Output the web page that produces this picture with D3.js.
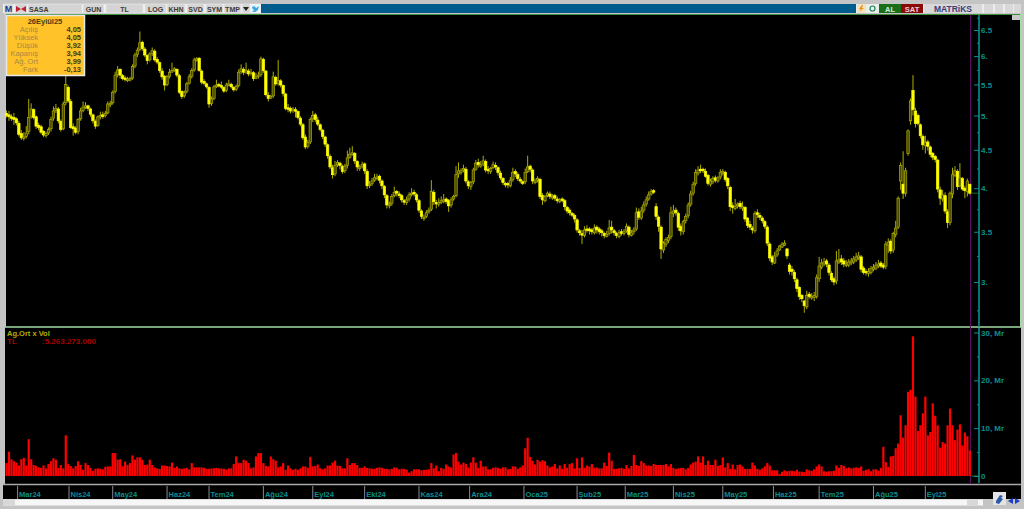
<!DOCTYPE html>
<html>
<head>
<meta charset="utf-8">
<title>SASA</title>
<script src="https://cdn.jsdelivr.net/npm/d3@7/dist/d3.min.js"></script>
<style>
html, body { margin: 0; padding: 0; background: #c4c4c4; overflow: hidden; }
svg { display: block; }
text { font-family: "Liberation Sans", sans-serif; }
</style>
</head>
<body>
<svg class="chart"></svg>
<script>
// data
var opens = [
  5.03,5.01,4.98,4.97,4.95,4.88,4.73,4.66,4.69,4.76,
  4.99,5.09,4.98,4.85,4.83,4.76,4.70,4.74,4.80,4.96,
  5.08,5.10,4.91,4.80,5.20,5.45,5.22,4.83,4.81,4.76,
  4.95,5.08,5.14,5.15,5.10,5.01,4.91,4.85,4.99,5.01,
  5.00,5.04,5.17,5.20,5.38,5.67,5.76,5.65,5.61,5.58,
  5.58,5.61,5.82,6.03,6.12,6.26,6.13,6.01,5.93,6.05,
  6.09,5.94,5.88,5.73,5.64,5.50,5.64,5.72,5.75,5.76,
  5.65,5.38,5.31,5.38,5.52,5.64,5.75,5.92,5.96,5.73,
  5.55,5.51,5.45,5.19,5.27,5.47,5.50,5.48,5.45,5.40,
  5.50,5.50,5.45,5.42,5.48,5.72,5.76,5.72,5.73,5.69,
  5.70,5.61,5.64,5.67,5.94,5.73,5.32,5.28,5.31,5.62,
  5.52,5.56,5.48,5.34,5.12,5.11,5.08,5.09,5.06,4.96,
  4.86,4.68,4.55,4.61,4.95,5.01,4.93,4.86,4.78,4.68,
  4.57,4.41,4.26,4.18,4.30,4.32,4.28,4.22,4.29,4.40,
  4.45,4.45,4.34,4.26,4.28,4.31,4.21,4.04,4.06,4.10,
  4.12,4.15,4.09,4.02,3.91,3.79,3.82,3.91,3.96,3.93,
  3.91,3.85,3.83,3.87,3.93,3.95,3.92,3.85,3.73,3.66,
  3.67,3.72,3.75,3.95,3.83,3.81,3.84,3.84,3.87,3.85,
  3.80,3.87,3.91,4.18,4.21,4.23,4.24,4.08,4.02,4.08,
  4.24,4.33,4.29,4.31,4.34,4.24,4.21,4.26,4.29,4.26,
  4.19,4.12,4.06,4.06,4.03,4.11,4.21,4.17,4.11,4.08,
  4.08,4.21,4.28,4.23,4.08,4.10,4.11,3.91,3.85,3.91,
  3.93,3.89,3.91,3.87,3.84,3.87,3.85,3.77,3.74,3.70,
  3.68,3.63,3.51,3.48,3.46,3.53,3.53,3.52,3.49,3.55,
  3.53,3.51,3.48,3.45,3.48,3.55,3.51,3.48,3.45,3.50,
  3.48,3.51,3.55,3.46,3.50,3.53,3.72,3.65,3.74,3.81,
  3.87,3.93,3.97,3.78,3.66,3.55,3.31,3.37,3.41,3.45,
  3.70,3.74,3.70,3.56,3.50,3.62,3.68,3.81,3.94,4.06,
  4.19,4.24,4.24,4.21,4.16,4.05,4.08,4.13,4.09,4.14,
  4.19,4.20,4.12,4.01,3.79,3.76,3.79,3.82,3.77,3.77,
  3.65,3.58,3.54,3.51,3.71,3.68,3.65,3.61,3.55,3.37,
  3.24,3.18,3.26,3.31,3.34,3.36,3.32,3.16,3.12,3.09,
  3.02,2.95,2.88,2.83,2.78,2.89,2.86,2.86,2.87,3.03,
  3.14,3.17,3.20,3.16,3.08,3.03,3.01,3.19,3.22,3.20,
  3.16,3.16,3.18,3.19,3.21,3.23,3.24,3.13,3.10,3.08,
  3.09,3.12,3.13,3.15,3.18,3.16,3.15,3.36,3.40,3.31,
  3.47,3.55,4.09,4.05,3.94,4.45,4.92,5.40,5.07,5.00,
  4.86,4.69,4.56,4.61,4.54,4.45,4.41,4.36,3.98,3.87,
  3.91,3.72,3.60,3.93,4.16,4.21,4.03,4.12,4.00,3.96,4.05
];
var closes = [
  5.00,4.98,4.96,4.94,4.89,4.72,4.67,4.68,4.74,4.97,
  5.10,4.97,4.84,4.82,4.75,4.71,4.73,4.79,4.94,5.07,
  5.11,4.92,4.79,5.18,5.50,5.23,4.82,4.80,4.75,4.94,
  5.07,5.13,5.15,5.11,5.02,4.92,4.84,4.98,5.00,5.00,
  5.03,5.18,5.19,5.37,5.66,5.75,5.66,5.60,5.59,5.59,
  5.60,5.81,6.02,6.11,6.25,6.14,6.02,5.92,6.04,6.10,
  5.93,5.89,5.74,5.63,5.49,5.63,5.71,5.74,5.77,5.66,
  5.37,5.30,5.37,5.51,5.63,5.74,5.93,5.95,5.74,5.54,
  5.52,5.46,5.18,5.26,5.46,5.49,5.49,5.46,5.39,5.49,
  5.51,5.46,5.41,5.47,5.71,5.77,5.71,5.74,5.68,5.71,
  5.60,5.63,5.66,5.95,5.74,5.33,5.27,5.30,5.63,5.51,
  5.57,5.49,5.35,5.11,5.10,5.07,5.10,5.07,4.97,4.87,
  4.67,4.54,4.60,4.94,5.00,4.94,4.87,4.79,4.69,4.58,
  4.42,4.27,4.17,4.29,4.33,4.29,4.21,4.28,4.39,4.44,
  4.46,4.35,4.27,4.27,4.30,4.22,4.03,4.05,4.09,4.13,
  4.14,4.10,4.03,3.92,3.80,3.81,3.90,3.95,3.94,3.92,
  3.86,3.84,3.86,3.92,3.94,3.93,3.86,3.74,3.67,3.66,
  3.71,3.74,3.96,3.84,3.82,3.83,3.85,3.86,3.84,3.79,
  3.86,3.90,4.17,4.22,4.22,4.25,4.09,4.03,4.07,4.23,
  4.32,4.30,4.30,4.35,4.23,4.22,4.25,4.30,4.27,4.20,
  4.13,4.07,4.05,4.04,4.10,4.20,4.18,4.12,4.09,4.07,
  4.20,4.27,4.24,4.09,4.09,4.12,3.90,3.86,3.90,3.94,
  3.90,3.90,3.88,3.85,3.86,3.86,3.78,3.73,3.71,3.69,
  3.64,3.52,3.49,3.47,3.52,3.52,3.51,3.50,3.54,3.52,
  3.50,3.49,3.46,3.47,3.54,3.52,3.49,3.46,3.49,3.49,
  3.50,3.56,3.47,3.49,3.52,3.71,3.66,3.73,3.80,3.86,
  3.92,3.96,3.96,3.67,3.56,3.32,3.38,3.42,3.44,3.71,
  3.73,3.71,3.55,3.51,3.61,3.67,3.80,3.93,4.05,4.20,
  4.23,4.23,4.22,4.15,4.06,4.09,4.12,4.10,4.13,4.20,
  4.21,4.11,4.03,3.78,3.77,3.78,3.81,3.78,3.78,3.64,
  3.57,3.55,3.52,3.70,3.69,3.66,3.62,3.56,3.38,3.23,
  3.19,3.25,3.30,3.35,3.37,3.38,3.25,3.10,3.10,3.03,
  2.94,2.87,2.85,2.79,2.88,2.87,2.87,2.88,3.04,3.15,
  3.18,3.19,3.17,3.09,3.02,3.00,3.20,3.21,3.19,3.17,
  3.17,3.19,3.20,3.22,3.24,3.25,3.12,3.09,3.09,3.10,
  3.13,3.14,3.16,3.17,3.15,3.14,3.37,3.39,3.30,3.48,
  3.54,3.88,4.29,3.94,4.22,4.77,5.23,5.09,4.88,4.88,
  4.70,4.57,4.60,4.55,4.44,4.40,4.37,3.99,3.88,3.92,
  3.73,3.60,3.94,4.17,4.22,4.02,4.13,3.99,3.97,4.09,3.94
];
var highs = [
  5.08,5.07,5.02,5.04,4.97,4.92,4.78,4.75,4.84,5.26,
  5.19,5.11,5.00,4.89,4.86,4.78,4.76,4.82,4.98,5.14,
  5.18,5.13,4.94,5.22,5.70,5.48,5.26,4.88,4.84,4.96,
  5.12,5.22,5.21,5.17,5.12,5.03,4.94,5.00,5.06,5.06,
  5.07,5.22,5.23,5.40,5.72,5.82,5.78,5.68,5.65,5.63,
  5.63,5.85,6.06,6.16,6.47,6.29,6.17,6.03,6.07,6.16,
  6.13,5.98,5.90,5.78,5.66,5.66,5.77,5.88,5.80,5.78,
  5.68,5.40,5.40,5.54,5.68,5.78,5.97,5.98,5.98,5.76,
  5.59,5.53,5.47,5.30,5.49,5.58,5.53,5.55,5.47,5.53,
  5.58,5.53,5.47,5.50,5.76,5.85,5.80,5.88,5.77,5.77,
  5.73,5.70,5.72,5.99,5.97,5.75,5.37,5.33,5.72,5.65,
  5.93,5.59,5.50,5.36,5.18,5.14,5.13,5.13,5.08,4.99,
  4.89,4.72,4.64,4.97,5.07,5.04,4.98,4.88,4.80,4.70,
  4.59,4.44,4.30,4.35,4.36,4.34,4.30,4.31,4.49,4.53,
  4.55,4.47,4.36,4.30,4.34,4.33,4.24,4.09,4.13,4.18,
  4.18,4.17,4.11,4.04,3.93,3.84,3.93,4.02,3.98,3.96,
  3.93,3.87,3.90,3.95,4.00,3.98,3.94,3.87,3.75,3.69,
  3.74,3.77,4.10,3.98,3.86,3.88,3.90,3.93,3.89,3.87,
  3.89,3.92,4.28,4.33,4.25,4.30,4.27,4.10,4.09,4.26,
  4.36,4.38,4.35,4.42,4.37,4.28,4.27,4.34,4.33,4.28,
  4.22,4.14,4.08,4.08,4.14,4.26,4.24,4.20,4.14,4.10,
  4.25,4.42,4.30,4.25,4.12,4.15,4.13,3.94,3.92,3.96,
  3.96,3.93,3.93,3.90,3.88,3.89,3.87,3.79,3.76,3.72,
  3.70,3.65,3.53,3.52,3.56,3.57,3.55,3.54,3.58,3.57,
  3.55,3.53,3.50,3.51,3.63,3.62,3.53,3.50,3.52,3.53,
  3.53,3.59,3.57,3.52,3.55,3.77,3.76,3.78,3.84,3.90,
  3.96,3.99,3.99,3.82,3.68,3.57,3.40,3.44,3.47,3.78,
  3.80,3.77,3.72,3.59,3.63,3.70,3.83,3.97,4.08,4.24,
  4.28,4.30,4.26,4.25,4.18,4.12,4.15,4.16,4.15,4.24,
  4.24,4.22,4.14,4.03,3.83,3.87,3.83,3.85,3.84,3.79,
  3.66,3.62,3.56,3.73,3.75,3.71,3.67,3.63,3.57,3.39,
  3.26,3.29,3.33,3.36,3.39,3.41,3.33,3.18,3.15,3.11,
  3.04,2.96,2.89,2.84,2.92,2.91,2.90,2.91,3.07,3.24,
  3.22,3.23,3.22,3.18,3.10,3.05,3.30,3.32,3.26,3.23,
  3.21,3.22,3.23,3.25,3.28,3.29,3.26,3.15,3.12,3.13,
  3.15,3.17,3.19,3.21,3.20,3.18,3.40,3.43,3.42,3.50,
  3.62,3.90,4.33,4.48,4.26,4.79,5.27,5.66,5.12,5.03,
  4.88,4.72,4.70,4.64,4.56,4.47,4.43,4.38,4.02,3.98,
  3.95,3.75,3.96,4.26,4.28,4.24,4.32,4.14,4.03,4.12,4.05
];
var lows = [
  4.97,4.92,4.92,4.86,4.85,4.69,4.64,4.63,4.66,4.72,
  4.95,4.94,4.80,4.78,4.72,4.68,4.67,4.71,4.76,4.92,
  5.04,4.88,4.76,4.78,5.16,5.20,4.80,4.70,4.72,4.72,
  4.92,5.05,5.10,5.07,4.98,4.88,4.80,4.83,4.94,4.95,
  4.97,5.02,5.13,5.17,5.35,5.62,5.60,5.57,5.55,5.54,
  5.55,5.58,5.78,5.98,6.09,6.10,5.98,5.85,5.90,6.00,
  5.90,5.85,5.70,5.58,5.40,5.47,5.60,5.70,5.72,5.62,
  5.34,5.26,5.28,5.35,5.50,5.60,5.72,5.90,5.72,5.50,
  5.48,5.43,5.12,5.15,5.24,5.44,5.45,5.42,5.36,5.37,
  5.47,5.43,5.38,5.39,5.45,5.68,5.66,5.68,5.64,5.65,
  5.56,5.59,5.60,5.63,5.70,5.30,5.22,5.26,5.28,5.48,
  5.48,5.45,5.30,5.08,5.05,5.03,5.04,4.97,4.94,4.84,
  4.64,4.51,4.52,4.58,4.90,4.90,4.84,4.76,4.65,4.54,
  4.38,4.24,4.12,4.15,4.27,4.24,4.18,4.19,4.25,4.38,
  4.42,4.31,4.22,4.22,4.25,4.18,3.99,4.00,4.03,4.08,
  4.10,4.06,3.99,3.88,3.76,3.76,3.79,3.89,3.90,3.88,
  3.83,3.80,3.80,3.84,3.90,3.90,3.83,3.71,3.64,3.62,
  3.65,3.70,3.73,3.80,3.76,3.78,3.81,3.82,3.81,3.72,
  3.77,3.85,3.89,4.13,4.17,4.20,4.06,3.99,3.98,4.05,
  4.22,4.26,4.26,4.28,4.20,4.18,4.18,4.24,4.23,4.16,
  4.10,4.04,4.01,4.00,4.01,4.08,4.14,4.09,4.06,4.04,
  4.05,4.19,4.20,4.05,4.05,4.07,3.87,3.80,3.83,3.89,
  3.87,3.86,3.85,3.82,3.82,3.83,3.74,3.70,3.68,3.66,
  3.60,3.49,3.46,3.37,3.44,3.49,3.47,3.47,3.47,3.48,
  3.47,3.45,3.43,3.44,3.46,3.48,3.46,3.43,3.43,3.46,
  3.46,3.49,3.44,3.45,3.47,3.51,3.63,3.63,3.71,3.78,
  3.85,3.91,3.93,3.63,3.50,3.22,3.28,3.34,3.38,3.42,
  3.66,3.68,3.51,3.46,3.47,3.59,3.65,3.78,3.91,4.03,
  4.16,4.19,4.19,4.13,4.03,4.02,4.05,4.07,4.07,4.11,
  4.16,4.08,3.99,3.73,3.70,3.74,3.76,3.75,3.73,3.61,
  3.54,3.52,3.48,3.49,3.65,3.63,3.59,3.53,3.35,3.20,
  3.16,3.17,3.24,3.30,3.33,3.35,3.22,3.07,3.06,3.00,
  2.91,2.84,2.82,2.73,2.76,2.85,2.84,2.83,2.85,3.00,
  3.12,3.15,3.14,3.06,3.00,2.97,2.98,3.17,3.16,3.14,
  3.14,3.14,3.16,3.17,3.19,3.21,3.09,3.07,3.06,3.05,
  3.07,3.10,3.11,3.13,3.13,3.12,3.12,3.28,3.27,3.28,
  3.44,3.53,3.98,3.87,3.90,4.42,4.86,5.00,4.82,4.85,
  4.66,4.50,4.45,4.49,4.40,4.36,4.33,3.95,3.80,3.84,
  3.70,3.54,3.57,3.88,4.14,3.98,4.01,3.97,3.88,3.90,3.92
];
// Ag.Ort x Vol, in Mr
var volumes = [
  2.7,5.1,3.5,3.1,2.8,2.2,3.5,3.8,2.2,7.7,
  3.5,2.3,2.1,1.8,1.7,2.2,1.6,2.5,3.1,3.7,
  3.4,1.7,2.3,1.6,8.5,2.5,2.1,1.6,2.1,3.1,
  2.3,1.3,2.7,2.3,1.7,1.1,1.5,1.6,1.5,1.4,
  1.9,2.0,2.0,4.8,4.8,3.4,3.5,2.0,3.0,2.3,
  2.7,4.3,3.4,3.9,3.9,3.4,2.3,2.4,3.4,2.3,
  1.8,1.6,1.5,2.2,2.2,2.1,2.0,2.8,1.7,2.0,
  1.6,1.5,1.6,1.7,1.4,2.7,1.8,1.8,1.8,1.8,
  1.7,1.5,1.5,1.6,1.6,1.7,1.6,1.6,1.5,1.3,
  1.6,1.6,2.5,4.1,2.7,2.7,3.4,3.2,2.7,1.6,
  1.8,4.1,4.8,4.8,2.7,2.1,2.0,4.1,3.5,3.2,
  1.8,2.0,2.7,1.3,2.2,1.6,1.3,1.5,1.3,1.6,
  2.0,2.0,1.7,4.0,2.0,2.1,2.4,1.6,1.4,1.6,
  2.2,2.2,2.8,3.2,2.2,2.1,1.6,1.6,3.7,2.3,
  2.7,2.7,2.3,1.7,1.7,2.0,1.7,1.6,1.5,1.5,
  1.7,1.8,1.7,1.5,1.5,1.4,1.5,1.8,1.7,1.4,
  1.5,1.5,1.3,0.7,1.0,1.4,1.4,1.4,1.2,1.3,
  1.3,1.4,2.7,1.6,2.2,1.0,1.7,1.5,2.4,2.0,
  1.8,4.5,4.8,3.0,2.4,2.8,2.5,1.8,2.8,3.9,
  2.8,1.7,3.2,2.0,2.0,1.4,1.4,1.7,1.8,1.7,
  1.5,1.8,1.8,1.4,1.5,2.0,2.0,1.5,1.8,2.2,
  5.8,8.0,4.0,3.2,2.4,3.4,3.0,3.3,3.1,2.2,
  1.8,2.0,2.5,1.6,2.2,1.5,2.5,1.7,2.5,2.7,
  1.6,3.7,1.7,3.9,1.7,2.2,2.0,2.5,1.7,1.8,
  1.6,1.6,2.8,2.1,4.9,3.2,1.5,1.5,1.6,1.7,
  1.5,2.3,1.6,2.1,4.4,2.3,2.1,3.1,2.7,2.2,
  2.2,2.1,2.5,2.3,2.3,2.3,2.3,2.5,2.0,2.5,
  1.7,1.5,1.6,1.7,1.7,1.4,1.7,2.4,2.8,3.0,
  4.1,2.8,4.1,2.3,3.2,2.3,2.3,3.4,2.1,2.3,
  3.9,1.8,2.7,1.5,2.4,1.4,2.3,2.4,2.0,1.5,
  1.5,1.5,2.8,2.2,1.5,1.3,1.6,2.0,2.7,2.2,
  1.2,1.2,1.2,0.4,0.9,1.2,1.0,1.1,1.1,1.0,
  1.3,0.9,0.9,0.8,1.4,1.2,1.1,1.4,2.0,2.4,
  2.0,1.0,0.9,1.0,1.0,1.1,2.2,1.7,2.3,2.1,
  1.6,1.8,1.6,1.7,1.8,1.7,2.0,1.1,1.3,1.4,
  1.0,1.4,1.4,1.1,1.7,6.1,2.9,1.9,4.1,4.2,
  5.8,6.8,12.7,8.0,10.6,17.6,18.0,29.2,16.6,9.4,
  10.6,13.1,16.6,8.5,9.2,15.2,12.6,10.6,5.9,7.1,
  6.8,10.6,14.1,10.6,7.5,9.7,10.8,6.4,9.1,8.3,5.3
];
var monthLabels = ['Mar24','Nis24','May24','Haz24','Tem24','Ağu24','Eyl24','Eki24','Kas24','Ara24','Oca25','Şub25','Mar25','Nis25','May25','Haz25','Tem25','Ağu25','Eyl25'];
var monthStart = [4.5,25.3,43,65,82,104,124,145,167,187.5,209.5,231,250.5,270,290,310.5,329,351,372];
var priceTicks = [3,3.5,4,4.5,5,5.5,6,6.5];
var priceLabels = ['3.','3.5','4.','4.5','5.','5.5','6.','6.5'];
var priceMinor = [2.75,3.25,3.75,4.25,4.75,5.25,5.75,6.25,6.75];
var volTicks = [0,10,20,30];
var volLabels = ['0','10, Mr','20, Mr','30, Mr'];
var volMinor = [5,15,25];
var infoLabels = ['Açılış','Yüksek','Düşük','Kapanış','Ağ. Ort','Fark'];
var infoValues = ['4,05','4,05','3,92','3,94','3,99','-0,13'];

// chart
var width = 1024;
var height = 509;
var pane = {left: 5, right: 1021, top: 15, mid: 327, volTop: 328, bottom: 484, axisBottom: 499};
var teal = '#0b8f8f';
var yellow = '#ffff00';
var olive = '#adad00';

var chart = d3.select('.chart')
    .attr('width', width)
    .attr('height', height);

var x = d3.scaleLinear()
    .domain([0, closes.length - 1])
    .range([6.5, 969.8]);

var y = d3.scaleLog()
    .domain([3, 6.5])
    .range([282, 30]);

var yVol = d3.scaleLinear()
    .domain([0, 30])
    .range([476, 332.5]);

// black panes
chart.append('rect')
    .attr('x', pane.left).attr('y', pane.top - 1)
    .attr('width', pane.right - pane.left).attr('height', pane.bottom - pane.top + 1)
    .attr('fill', '#000');
chart.append('rect')
    .attr('x', 3).attr('y', 485)
    .attr('width', pane.right - 3).attr('height', 14)
    .attr('fill', '#000');

// pane borders
chart.append('line')
    .attr('x1', pane.left).attr('x2', pane.right)
    .attr('y1', 14.5).attr('y2', 14.5)
    .attr('stroke', '#3f8f3f');
chart.append('line')
    .attr('x1', pane.left).attr('x2', pane.right)
    .attr('y1', pane.mid).attr('y2', pane.mid)
    .attr('stroke', '#a4dca4').attr('stroke-width', 1.5);
chart.append('line')
    .attr('x1', 5.5).attr('x2', 5.5)
    .attr('y1', 14).attr('y2', pane.mid)
    .attr('stroke', '#a4dca4');
chart.append('line')
    .attr('x1', 1020.5).attr('x2', 1020.5)
    .attr('y1', 14).attr('y2', pane.mid)
    .attr('stroke', '#a4dca4');
chart.append('line')
    .attr('x1', 3).attr('x2', pane.right)
    .attr('y1', 484.5).attr('y2', 484.5)
    .attr('stroke', '#a8a8a8').attr('stroke-width', 1.5);

// last bar marker line
chart.append('line')
    .attr('x1', 970.5).attr('x2', 970.5)
    .attr('y1', pane.top).attr('y2', 484)
    .attr('stroke', '#5c0f5c');

// candles
var candles = chart.selectAll('.candle')
    .data(closes)
  .enter().append('g')
    .attr('class', 'candle');

candles.append('line')
    .attr('x1', function(d, i) {return x(i);})
    .attr('x2', function(d, i) {return x(i);})
    .attr('y1', function(d, i) {return y(highs[i]);})
    .attr('y2', function(d, i) {return y(lows[i]);})
    .attr('stroke', olive)
    .attr('stroke-width', 1);

candles.append('rect')
    .attr('x', function(d, i) {return x(i) - 1.2;})
    .attr('width', 2.4)
    .attr('y', function(d, i) {return y(Math.max(opens[i], d));})
    .attr('height', function(d, i) {return Math.max(1.5, Math.abs(y(opens[i]) - y(d)));})
    .attr('fill', function(d, i) {return d < opens[i] ? yellow : '#4a4a00';})
    .attr('stroke', function(d, i) {return d < opens[i] ? yellow : olive;})
    .attr('stroke-width', 0.7);

// volume bars
chart.selectAll('.volBar')
    .data(volumes)
  .enter().append('rect')
    .attr('class', 'volBar')
    .attr('x', function(d, i) {return x(i) - 1.1;})
    .attr('width', 2.2)
    .attr('y', function(d) {return yVol(d);})
    .attr('height', function(d) {return yVol(0) - yVol(d);})
    .attr('fill', '#ff0000');

// last price and zero guide
chart.append('line')
    .attr('x1', 971).attr('x2', 979)
    .attr('y1', y(closes[closes.length - 1])).attr('y2', y(closes[closes.length - 1]))
    .attr('stroke', '#1c6e1c');
chart.append('line')
    .attr('x1', 971).attr('x2', 979)
    .attr('y1', yVol(0)).attr('y2', yVol(0))
    .attr('stroke', '#1c6e1c');

// axes
function styleAxis(g) {
  g.selectAll('.domain').attr('stroke', teal).attr('stroke-width', 1.6);
  g.selectAll('line').attr('stroke', teal);
  g.selectAll('text')
    .attr('fill', teal)
    .attr('font-size', 8)
    .attr('font-family', '"Liberation Sans", sans-serif')
    .attr('font-weight', 'bold');
}

var priceAxis = d3.axisLeft(y)
    .tickValues(priceTicks)
    .tickSize(5)
    .tickFormat(function(d, i) {return priceLabels[i];});
var priceMinorAxis = d3.axisLeft(y)
    .tickValues(priceMinor)
    .tickSize(2)
    .tickFormat('');

var gPrice = chart.append('g')
    .attr('transform', 'translate(979,0)')
    .call(priceAxis)
    .call(styleAxis);
gPrice.selectAll('text').attr('text-anchor', 'start').attr('x', 2);
gPrice.select('.domain').attr('d', 'M0,' + pane.top + 'V327');
var gPriceMinor = chart.append('g')
    .attr('transform', 'translate(979,0)')
    .call(priceMinorAxis)
    .call(styleAxis);
gPriceMinor.select('.domain').remove();

var volAxis = d3.axisLeft(yVol)
    .tickValues(volTicks)
    .tickSize(5)
    .tickFormat(function(d, i) {return volLabels[i];});
var volMinorAxis = d3.axisLeft(yVol)
    .tickValues(volMinor)
    .tickSize(2)
    .tickFormat('');

var gVol = chart.append('g')
    .attr('transform', 'translate(979,0)')
    .call(volAxis)
    .call(styleAxis);
gVol.selectAll('text').attr('text-anchor', 'start').attr('x', 2);
gVol.select('.domain').attr('d', 'M0,328V483');
var gVolMinor = chart.append('g')
    .attr('transform', 'translate(979,0)')
    .call(volMinorAxis)
    .call(styleAxis);
gVolMinor.select('.domain').remove();

// month axis
var months = chart.selectAll('.month')
    .data(monthLabels)
  .enter().append('g')
    .attr('class', 'month')
    .attr('transform', function(d, i) {return 'translate(' + x(monthStart[i]) + ',0)';});
months.append('line')
    .attr('y1', 486).attr('y2', 499)
    .attr('stroke', '#8a8a8a');
months.append('text')
    .attr('x', 1.5)
    .attr('y', 497)
    .attr('fill', teal)
    .attr('font-size', 7.5)
    .attr('font-weight', 'bold')
    .text(function(d) {return d;});

// indicator caption
chart.append('text')
    .attr('x', 7).attr('y', 336)
    .attr('fill', '#b0b000').attr('font-size', 7.5).attr('font-weight', 'bold')
    .text('Ag.Ort x Vol');
chart.append('text')
    .attr('x', 7).attr('y', 344)
    .attr('fill', '#a80000').attr('font-size', 8).attr('font-weight', 'bold')
    .text('TL');
chart.append('text')
    .attr('x', 42).attr('y', 344)
    .attr('fill', '#a80000').attr('font-size', 8).attr('font-weight', 'bold')
    .text(':5.263.273.000');

// info box
chart.append('rect')
    .attr('x', 6.5).attr('y', 15.5)
    .attr('width', 78).attr('height', 60)
    .attr('fill', '#ffc228')
    .attr('stroke', '#e8e8e8').attr('stroke-width', 1.5);
chart.append('text')
    .attr('x', 45).attr('y', 23.5)
    .attr('text-anchor', 'middle')
    .attr('fill', '#4a3a10').attr('font-size', 7.5).attr('font-weight', 'bold')
    .text('26Eylül25');
chart.selectAll('.infoLabel')
    .data(infoLabels)
  .enter().append('text')
    .attr('class', 'infoLabel')
    .attr('x', 38)
    .attr('y', function(d, i) {return 32 + i * 8;})
    .attr('text-anchor', 'end')
    .attr('fill', '#a58a45')
    .attr('font-size', 7.5)
    .text(function(d) {return d;});
chart.selectAll('.infoValue')
    .data(infoValues)
  .enter().append('text')
    .attr('class', 'infoValue')
    .attr('x', 81)
    .attr('y', function(d, i) {return 32 + i * 8;})
    .attr('text-anchor', 'end')
    .attr('fill', '#4a3a10')
    .attr('font-size', 7.5)
    .attr('font-weight', 'bold')
    .text(function(d) {return d;});

// toolbar
var toolbarNames = ['M','','SASA','GUN','TL','LOG','KHN','SVD','SYM','TMP','',''];
var toolbarLeft =  [4,15,28,83,106,145,167,187,206,224,242,251];
var toolbarWidth = [9,12,54,21,37,21,18,17,17,17,8,9];
var rightNames = ['','','AL','SAT','MATRiKS','','','',''];
var rightLeft =  [857,868,879,901,924,984,995,1005,1014];
var rightWidth = [9,9,22,22,58,9,8,8,7];
var rightFill =  ['#f0e4c0','#e8f0e8','#1a6e1a','#8a0a0a','#d8d8d8','#d8d8d8','#d8d8d8','#d8d8d8','#d8d8d8'];
var rightInk =   ['#f09010','#208060','#d8f0d8','#f0d0d0','#3a3f7a','#aaa','#aaa','#777','#777'];

chart.append('rect')
    .attr('x', 3).attr('y', 4)
    .attr('width', 1018).attr('height', 9)
    .attr('fill', '#ececec');
chart.append('rect')
    .attr('x', 261).attr('y', 4)
    .attr('width', 595).attr('height', 9)
    .attr('fill', '#005c8c');

var tools = chart.selectAll('.tool')
    .data(toolbarNames)
  .enter().append('g')
    .attr('class', 'tool');
tools.append('rect')
    .attr('x', function(d, i) {return toolbarLeft[i];})
    .attr('y', 4)
    .attr('width', function(d, i) {return toolbarWidth[i];})
    .attr('height', 9)
    .attr('fill', function(d, i) {return i === 11 ? '#e8f4fa' : '#d4d4d4';})
    .attr('stroke', '#f4f4f4').attr('stroke-width', 0.5);
tools.append('text')
    .attr('x', function(d, i) {return i === 2 ? toolbarLeft[i] + 1 : toolbarLeft[i] + toolbarWidth[i] / 2;})
    .attr('y', 11.5)
    .attr('text-anchor', function(d, i) {return i === 2 ? 'start' : 'middle';})
    .attr('fill', function(d, i) {return i === 0 ? '#1a3a8a' : '#3c3c3c';})
    .attr('font-size', function(d, i) {return i === 0 ? 9 : 7;})
    .attr('font-weight', 'bold')
    .text(function(d) {return d;});

// small toolbar icons
chart.append('path').attr('d', 'M16,6L21,9L16,12ZM26,6L21,9L26,12Z').attr('fill', '#c02030');
chart.append('path').attr('d', 'M243,7H249L246,11Z').attr('fill', '#222');
chart.append('path').attr('d', 'M252,7Q255,5 256,8Q258,7 259,6Q258,12 254,12Q252,12 252,11Q254,11 254,10Q252,9 252,7Z').attr('fill', '#3ea8dc');

var rightTools = chart.selectAll('.rightTool')
    .data(rightNames)
  .enter().append('g')
    .attr('class', 'rightTool');
rightTools.append('rect')
    .attr('x', function(d, i) {return rightLeft[i];})
    .attr('y', 4)
    .attr('width', function(d, i) {return rightWidth[i];})
    .attr('height', 9)
    .attr('fill', function(d, i) {return rightFill[i];});
rightTools.append('text')
    .attr('x', function(d, i) {return rightLeft[i] + rightWidth[i] / 2;})
    .attr('y', function(d, i) {return i === 4 ? 11.8 : 11.5;})
    .attr('text-anchor', 'middle')
    .attr('fill', function(d, i) {return rightInk[i];})
    .attr('font-size', function(d, i) {return i === 4 ? 8.5 : 7.5;})
    .attr('font-weight', 'bold')
    .text(function(d) {return d;});
chart.append('path').attr('d', 'M862,5L859,9H861L859,12L864,8H862L863,5Z').attr('fill', '#f09010');
chart.append('circle').attr('cx', 872.5).attr('cy', 8.5).attr('r', 2.5)
    .attr('fill', 'none').attr('stroke', '#208060').attr('stroke-width', 1.2);
chart.append('rect')
    .attr('x', 1012).attr('y', 15)
    .attr('width', 8).attr('height', 5)
    .attr('fill', '#c8c8c8');

// scrollbar and bottom buttons
chart.append('rect')
    .attr('x', 3).attr('y', 499.5)
    .attr('width', 980).attr('height', 6)
    .attr('fill', '#f6f6f6');
chart.append('rect')
    .attr('x', 3).attr('y', 499.5)
    .attr('width', 12).attr('height', 6)
    .attr('fill', '#d8d8d8');
chart.append('rect')
    .attr('x', 967).attr('y', 499.5)
    .attr('width', 11).attr('height', 6)
    .attr('fill', '#d8d8d8');
chart.append('rect')
    .attr('x', 993).attr('y', 492)
    .attr('width', 13).attr('height', 13)
    .attr('fill', '#e4e4e4');
chart.append('path')
    .attr('d', 'M996,501L1000,495L1003,496L1001,498L1003,499L999,504L996,503Z')
    .attr('fill', '#2a5aa8');
chart.append('path').attr('d', 'M1013,498V504L1008,501Z').attr('fill', '#1a3ec8');
chart.append('path').attr('d', 'M1015,498V504L1020,501Z').attr('fill', '#1a3ec8');
</script>
</body>
</html>
